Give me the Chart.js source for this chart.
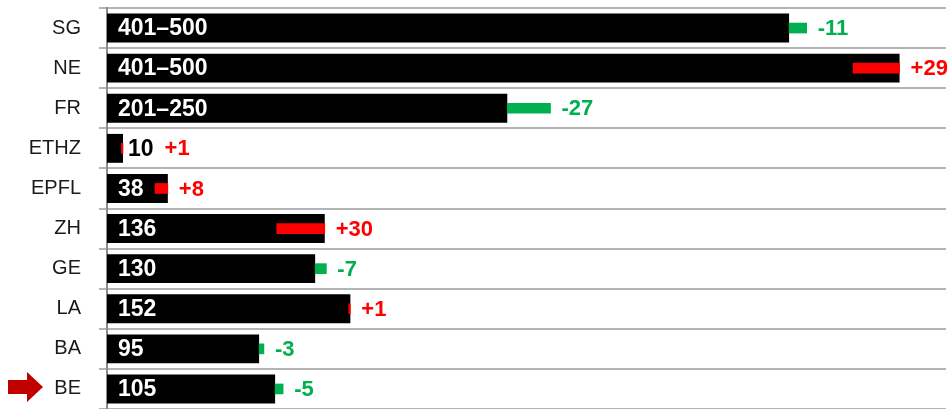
<!DOCTYPE html>
<html>
<head>
<meta charset="utf-8">
<script src="https://cdn.jsdelivr.net/npm/chart.js@4.4.0/dist/chart.umd.min.js"></script>
<style>
  html, body { margin: 0; padding: 0; background: #fff; }
  #wrap { width: 952px; height: 409px; }
</style>
</head>
<body>
<div id="wrap"><canvas id="rankChart" width="952" height="409"></canvas></div>
<script>
// ranking per school, change vs previous year (+ = fell back, - = moved up)
const schools = ['SG', 'NE', 'FR', 'ETHZ', 'EPFL', 'ZH', 'GE', 'LA', 'BA', 'BE'];
const ranks = [426, 495, 250, 10, 38, 136, 130, 152, 95, 105];
const rankLabels = ['401–500', '401–500', '201–250', '10', '38', '136', '130', '152', '95', '105'];
const rankChanges = [-11, 29, -27, 1, 8, 30, -7, 1, -3, -5];
const highlighted = 'BE';

const GREEN = '#00b050';
const RED = '#ff0000';
const FONT = '"Liberation Sans", Arial, sans-serif';

// segment between last year's rank and this year's
const changeBars = ranks.map((r, i) => [r - rankChanges[i], r].sort((a, b) => a - b));
const changeColors = rankChanges.map(c => c > 0 ? RED : GREEN);

const labelPlugin = {
    id: 'rankLabels',
    afterDatasetsDraw(chart) {
        const ctx = chart.ctx;
        const changeMeta = chart.getDatasetMeta(0);
        const rankMeta = chart.getDatasetMeta(1);
        ctx.save();
        ctx.textBaseline = 'middle';
        ctx.textAlign = 'left';
        rankMeta.data.forEach((bar, i) => {
            ctx.font = 'bold 23px ' + FONT;
            const txt = rankLabels[i];
            const w = ctx.measureText(txt).width;
            const inside = bar.x - bar.base > w + 16;
            let end = bar.x;
            if (inside) {
                ctx.fillStyle = '#fff';
                ctx.fillText(txt, bar.base + 11, bar.y + 1);
            } else {
                ctx.fillStyle = '#000';
                ctx.fillText(txt, bar.x + 5, bar.y + 1);
                end = bar.x + 5 + w;
            }
            const seg = changeMeta.data[i];
            end = Math.max(end, seg.x, seg.base);
            const c = rankChanges[i];
            ctx.font = 'bold 22px ' + FONT;
            ctx.fillStyle = changeColors[i];
            ctx.fillText((c > 0 ? '+' : '') + c, end + 11, bar.y + 1);
        });
        ctx.restore();
    }
};

// red arrow in front of the highlighted school
const arrowPlugin = {
    id: 'arrow',
    afterDraw(chart) {
        const idx = schools.indexOf(highlighted);
        if (idx < 0) return;
        const y = chart.scales.y.getPixelForValue(idx) - 2;
        const ctx = chart.ctx;
        ctx.save();
        ctx.fillStyle = '#c00000';
        ctx.beginPath();
        ctx.moveTo(8, y - 7);
        ctx.lineTo(27, y - 7);
        ctx.lineTo(27, y - 15);
        ctx.lineTo(43, y);
        ctx.lineTo(27, y + 15);
        ctx.lineTo(27, y + 7);
        ctx.lineTo(8, y + 7);
        ctx.closePath();
        ctx.fill();
        ctx.restore();
    }
};

new Chart(document.getElementById('rankChart'), {
    type: 'bar',
    data: {
        labels: schools,
        datasets: [
            {
                label: 'Change',
                data: changeBars,
                backgroundColor: changeColors,
                barThickness: 10,
                grouped: false,
                order: 0
            },
            {
                label: 'Rank',
                data: ranks,
                backgroundColor: '#000',
                barPercentage: 0.72,
                categoryPercentage: 1,
                grouped: false,
                order: 1
            }
        ]
    },
    options: {
        indexAxis: 'y',
        responsive: false,
        animation: false,
        layout: { padding: { top: 8, right: 6, bottom: 0, left: 0 } },
        plugins: {
            legend: { display: false },
            tooltip: { enabled: false }
        },
        scales: {
            x: {
                display: false,
                min: 0,
                max: 524
            },
            y: {
                afterFit: (scale) => {
                    scale.width = 107;
                    scale.paddingTop = 0;
                    scale.paddingBottom = 0;
                },
                grid: {
                    offset: true,
                    color: '#b4b4b4',
                    lineWidth: 2,
                    tickLength: 8
                },
                border: { display: true, color: '#8c8c8c', width: 2 },
                ticks: {
                    padding: 18,
                    color: '#1a1a1a',
                    font: { family: FONT, size: 20 }
                }
            }
        }
    },
    plugins: [labelPlugin, arrowPlugin]
});
</script>
</body>
</html>
